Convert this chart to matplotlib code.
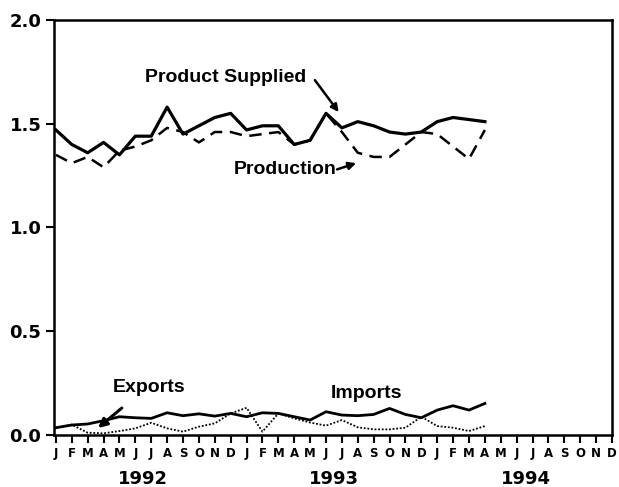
import numpy as np
import matplotlib
matplotlib.use("Agg")
import matplotlib.pyplot as plt

plt.rcParams['font.family'] = ['Liberation Sans', 'DejaVu Sans']
plt.rcParams['font.weight'] = 'bold'

# monthly values, Jan 1992 - Apr 1994 (million barrels per day)
supplied = [1.47, 1.40, 1.36, 1.41, 1.35, 1.44, 1.44, 1.58, 1.45, 1.49, 1.53, 1.55,
            1.47, 1.49, 1.49, 1.40, 1.42, 1.55, 1.48, 1.51, 1.49, 1.46, 1.45, 1.46,
            1.51, 1.53, 1.52, 1.51]
production = [1.35, 1.31, 1.34, 1.29, 1.37, 1.39, 1.42, 1.48, 1.46, 1.41, 1.46, 1.46,
              1.44, 1.45, 1.46, 1.40, 1.42, 1.55, 1.46, 1.36, 1.34, 1.34, 1.40, 1.46,
              1.45, 1.39, 1.33, 1.47]
imports = [0.035, 0.048, 0.053, 0.069, 0.088, 0.083, 0.080, 0.107, 0.093, 0.102, 0.091, 0.104,
           0.088, 0.107, 0.104, 0.088, 0.072, 0.112, 0.096, 0.093, 0.099, 0.128, 0.099, 0.083,
           0.120, 0.141, 0.120, 0.152]
exports = [0.035, 0.050, 0.011, 0.008, 0.019, 0.032, 0.059, 0.032, 0.016, 0.040, 0.056, 0.104,
           0.131, 0.016, 0.104, 0.080, 0.060, 0.045, 0.072, 0.037, 0.027, 0.027, 0.035, 0.088,
           0.043, 0.035, 0.019, 0.043]

month_letters = list("JFMAMJJASOND") * 3
years = ['1992', '1993', '1994']
year_pos = [5.5, 17.5, 29.6]

x = np.arange(len(supplied))

fig = plt.figure(figsize=(6.19, 4.87), dpi=100)
ax = fig.add_axes([0.0872, 0.1068, 0.9015, 0.8522])

ax.plot(x, supplied, color='black', lw=2.3)
ax.plot(x, production, color='black', lw=1.8, dashes=(5, 3))
ax.plot(x, imports, color='black', lw=2.0)
ax.plot(x, exports, color='black', lw=1.3, ls=(0, (1, 1)))

ax.set_xlim(-0.12, 35)
ax.set_ylim(0, 2.0)

ax.set_yticks([0.0, 0.5, 1.0, 1.5, 2.0])
ax.set_yticklabels(['0.0', '0.5', '1.0', '1.5', '2.0'], fontsize=13,
                   fontweight='bold', family='DejaVu Sans')
ax.set_xticks(np.arange(36))
ax.set_xticklabels(month_letters, fontsize=8.5, fontweight='bold', family='DejaVu Sans')
ax.tick_params(axis='y', direction='out', length=6, width=1.5, pad=3)
ax.tick_params(axis='x', direction='out', length=6, width=1.5, pad=3)

for s in ax.spines.values():
    s.set_linewidth(1.8)

for yr, px in zip(years, year_pos):
    ax.text(px, -0.213, yr, ha='center', va='center', fontsize=13,
            fontweight='bold', family='DejaVu Sans')

# labels and their arrows
lab = dict(ha='center', va='center', fontsize=14, fontweight='bold')
arrow = dict(arrowstyle='-|>', color='black', lw=1.8, mutation_scale=11,
             shrinkA=0, shrinkB=0)

ax.text(10.7, 1.725, 'Product Supplied', **lab)
ax.annotate('', xy=(17.8, 1.556), xytext=(16.3, 1.71), arrowprops=arrow)

ax.text(14.4, 1.277, 'Production', **lab)
ax.annotate('', xy=(18.9, 1.31), xytext=(17.7, 1.28), arrowprops=arrow)

ax.text(5.85, 0.227, 'Exports', **lab)
ax.annotate('', xy=(2.65, 0.034), xytext=(4.15, 0.13),
            arrowprops=dict(arrowstyle='-|>', color='black', lw=2.2,
                            mutation_scale=13, shrinkA=0, shrinkB=0))

ax.text(19.56, 0.2, 'Imports', **lab)

fig.savefig('out.png', dpi=100)
